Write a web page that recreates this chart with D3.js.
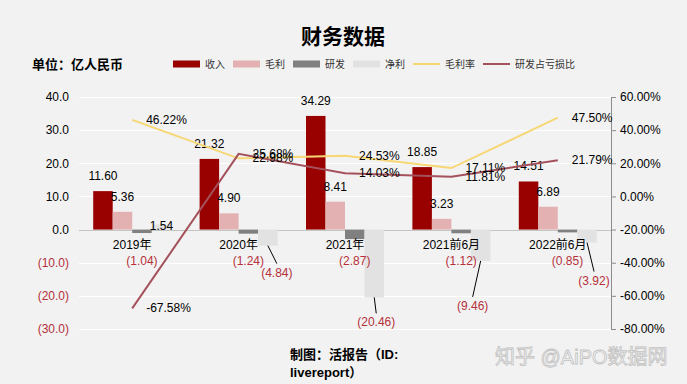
<!DOCTYPE html>
<html>
<head>
<meta charset="utf-8">
<script src="https://cdn.jsdelivr.net/npm/d3@7"></script>
<style>
  body { margin: 0; background: #f2f2f2; }
  text { font-family: "Liberation Sans", "Noto Sans CJK SC", sans-serif; }
</style>
</head>
<body>
<div id="chart-area"></div>
<script>
const categories = ["2019年", "2020年", "2021年", "2021前6月", "2022前6月"];
const revenue = [11.60, 21.32, 34.29, 18.85, 14.51];
const grossProfit = [5.36, 4.90, 8.41, 3.23, 6.89];
const rnd = [-1.04, -1.24, -2.87, -1.12, -0.85];
const netProfit = [1.54, -4.84, -20.46, -9.46, -3.92];
const grossMargin = [46.22, 22.98, 24.53, 17.11, 47.50];
const rndLossRatio = [-67.58, 25.68, 14.03, 11.81, 21.79];
const leftTicks = [40, 30, 20, 10, 0, -10, -20, -30];
const rightTicks = [60, 40, 20, 0, -20, -40, -60, -80];

// net profit labels were dragged away from their bars, offsets in px from bar end
const netLabelOffset = [[0, 2], [9, 27], [2, 25], [-8, 45], [7, 38]];

const W = 687, H = 384;
const red = "#b5303a";

// plain hyphen for negatives, like the original
const locale = d3.formatLocale({ decimal: ".", thousands: ",", grouping: [3], currency: ["", ""], minus: "-" });
const f2 = locale.format(".2f");
const f1 = locale.format(".1f");

const svg = d3.select("#chart-area")
  .append("svg")
    .attr("width", W)
    .attr("height", H)
    .style("background", "#f2f2f2");

const x = d3.scaleBand()
  .domain(categories)
  .range([79, 611]);

const keys = ["revenue", "gross", "rnd", "net"];
const colors = { revenue: "#990000", gross: "#e3b1b1", rnd: "#808080", net: "#e2e2e2" };
const groupW = 78;
const xSub = d3.scaleBand()
  .domain(keys)
  .range([(x.bandwidth() - groupW) / 2, (x.bandwidth() + groupW) / 2]);

const y = d3.scaleLinear().domain([-30, 40]).range([329, 97]);
const y2 = d3.scaleLinear().domain([-80, 60]).range([329, 97]);

// title + unit
svg.append("text")
  .attr("x", 343)
  .attr("y", 44)
  .attr("text-anchor", "middle")
  .attr("font-size", "21px")
  .attr("font-weight", "bold")
  .attr("font-family", "Noto Sans CJK SC")
  .text("财务数据");

svg.append("text")
  .attr("x", 32)
  .attr("y", 69)
  .attr("font-size", "13px")
  .attr("font-weight", "bold")
  .attr("font-family", "Noto Sans CJK SC")
  .text("单位：亿人民币");

// grid
svg.append("g")
  .selectAll("line")
  .data(leftTicks)
  .join("line")
    .attr("x1", 79)
    .attr("x2", 611)
    .attr("y1", d => Math.round(y(d)) + 0.5)
    .attr("y2", d => Math.round(y(d)) + 0.5)
    .attr("stroke", d => d === 0 ? "#c4c4c4" : "#ffffff")
    .attr("stroke-width", 1);

// left axis
const yAxis = svg.append("g")
  .attr("transform", "translate(79,0)")
  .call(d3.axisLeft(y).tickValues(leftTicks).tickSize(0).tickPadding(10)
    .tickFormat(d => d < 0 ? "(" + f1(-d) + ")" : f1(d)));
yAxis.select(".domain").remove();
yAxis.selectAll("text")
  .attr("font-size", "12px")
  .attr("font-family", "Liberation Sans")
  .attr("fill", d => d < 0 ? red : "#000");

// right axis
const y2Axis = svg.append("g")
  .attr("transform", "translate(611,0)")
  .call(d3.axisRight(y2).tickValues(rightTicks).tickSize(5).tickPadding(4)
    .tickFormat(d => f2(d) + "%"));
y2Axis.select(".domain").attr("stroke", "#8c8c8c");
y2Axis.selectAll(".tick line").attr("stroke", "#8c8c8c");
y2Axis.selectAll("text")
  .attr("font-size", "12px")
  .attr("font-family", "Liberation Sans")
  .attr("fill", "#000");

// bars
const rows = categories.map((c, i) => ({
  cat: c, i,
  revenue: revenue[i], gross: grossProfit[i], rnd: rnd[i], net: netProfit[i]
}));

const groups = svg.append("g")
  .selectAll("g")
  .data(rows)
  .join("g")
    .attr("transform", d => `translate(${x(d.cat)},0)`);

groups.selectAll("rect")
  .data(d => keys.map(k => ({ key: k, value: d[k], i: d.i })))
  .join("rect")
    .attr("x", d => xSub(d.key))
    .attr("y", d => y(Math.max(0, d.value)))
    .attr("width", xSub.bandwidth())
    .attr("height", d => Math.abs(y(d.value) - y(0)))
    .attr("fill", d => colors[d.key]);

// revenue + gross labels above bars
groups.selectAll("text.top")
  .data(d => ["revenue", "gross"].map(k => ({ key: k, value: d[k] })))
  .join("text")
    .attr("class", "top")
    .attr("x", d => xSub(d.key) + xSub.bandwidth() / 2)
    .attr("y", d => y(d.value) - 11)
    .attr("text-anchor", "middle")
    .attr("font-size", "12px")
    .text(d => f2(d.value));

// category labels
svg.append("g")
  .selectAll("text")
  .data(categories)
  .join("text")
    .attr("x", d => x(d) + x.bandwidth() / 2)
    .attr("y", 249)
    .attr("text-anchor", "middle")
    .attr("font-size", "12px")
    .text(d => d);

const fmtVal = v => v < 0 ? "(" + f2(-v) + ")" : f2(v);

// R&D labels
groups.append("text")
  .attr("x", xSub("rnd") + xSub.bandwidth() / 2)
  .attr("y", d => y(0) + 35)
  .attr("text-anchor", "middle")
  .attr("font-size", "12px")
  .attr("fill", red)
  .text(d => fmtVal(d.rnd));

// net profit labels with leader lines
groups.each(function (d) {
  const gsel = d3.select(this);
  const cx = xSub("net") + xSub.bandwidth() / 2;
  const ey = y(d.net);
  const [dx, dy] = netLabelOffset[d.i];
  if (d.net < 0) {
    gsel.append("line")
      .attr("x1", cx)
      .attr("y1", ey)
      .attr("x2", cx + dx)
      .attr("y2", ey + dy - 9)
      .attr("stroke", "#000")
      .attr("stroke-width", 1);
  }
  gsel.append("text")
    .attr("x", cx + dx)
    .attr("y", ey + dy + 4)
    .attr("text-anchor", "middle")
    .attr("font-size", "12px")
    .attr("fill", d.net < 0 ? red : "#000")
    .text(fmtVal(d.net));
});

// lines
const cx = d => x(d) + x.bandwidth() / 2;
const lineSeries = [
  { name: "毛利率", values: grossMargin, color: "#f7d774" },
  { name: "研发占亏损比", values: rndLossRatio, color: "#a4515b" }
];

const line = d3.line()
  .x(d => cx(d.cat))
  .y(d => y2(d.v));

lineSeries.forEach(s => {
  const pts = categories.map((c, i) => ({ cat: c, v: s.values[i] }));
  svg.append("path")
    .datum(pts)
    .attr("fill", "none")
    .attr("stroke", s.color)
    .attr("stroke-width", 2)
    .attr("d", line);
});

lineSeries.forEach(s => {
  svg.append("g")
    .selectAll("text")
    .data(categories.map((c, i) => ({ cat: c, v: s.values[i] })))
    .join("text")
      .attr("x", d => cx(d.cat) + 14)
      .attr("y", d => y2(d.v) + 4)
      .attr("font-size", "12px")
      .text(d => f2(d.v) + "%");
});

// legend
const legendItems = [
  { name: "收入", type: "rect", color: colors.revenue },
  { name: "毛利", type: "rect", color: colors.gross },
  { name: "研发", type: "rect", color: colors.rnd },
  { name: "净利", type: "rect", color: colors.net },
  { name: "毛利率", type: "line", color: lineSeries[0].color },
  { name: "研发占亏损比", type: "line", color: lineSeries[1].color }
];

const legend = svg.append("g").attr("transform", "translate(173,64)");
let lx = 0;
legendItems.forEach(it => {
  if (it.type === "rect") {
    legend.append("rect")
      .attr("x", lx).attr("y", -3.5)
      .attr("width", 27).attr("height", 7)
      .attr("fill", it.color);
  } else {
    legend.append("line")
      .attr("x1", lx).attr("x2", lx + 27)
      .attr("y1", 0).attr("y2", 0)
      .attr("stroke", it.color)
      .attr("stroke-width", 2);
  }
  const t = legend.append("text")
    .attr("x", lx + 32)
    .attr("y", 4)
    .attr("font-size", "10px")
    .attr("fill", "#333")
    .attr("font-family", "Noto Sans CJK SC")
    .text(it.name);
  lx += 32 + t.node().getComputedTextLength() + 8;
});

// footer
svg.append("text")
  .attr("x", 290)
  .attr("y", 359)
  .attr("font-size", "13px")
  .attr("font-weight", "bold")
  .attr("font-family", "Noto Sans CJK SC")
  .text("制图：活报告（ID:");

svg.append("text")
  .attr("x", 290)
  .attr("y", 377)
  .attr("font-size", "13px")
  .attr("font-weight", "bold")
  .attr("font-family", "Noto Sans CJK SC")
  .text("livereport）");

svg.append("text")
  .attr("x", 495)
  .attr("y", 364)
  .attr("font-size", "20px")
  .attr("font-family", "Noto Sans CJK SC")
  .attr("fill", "#f7f7f7")
  .attr("stroke", "#c2c2c2")
  .attr("stroke-width", 0.8)
  .text("知乎 @AiPO数据网");
</script>
</body>
</html>
